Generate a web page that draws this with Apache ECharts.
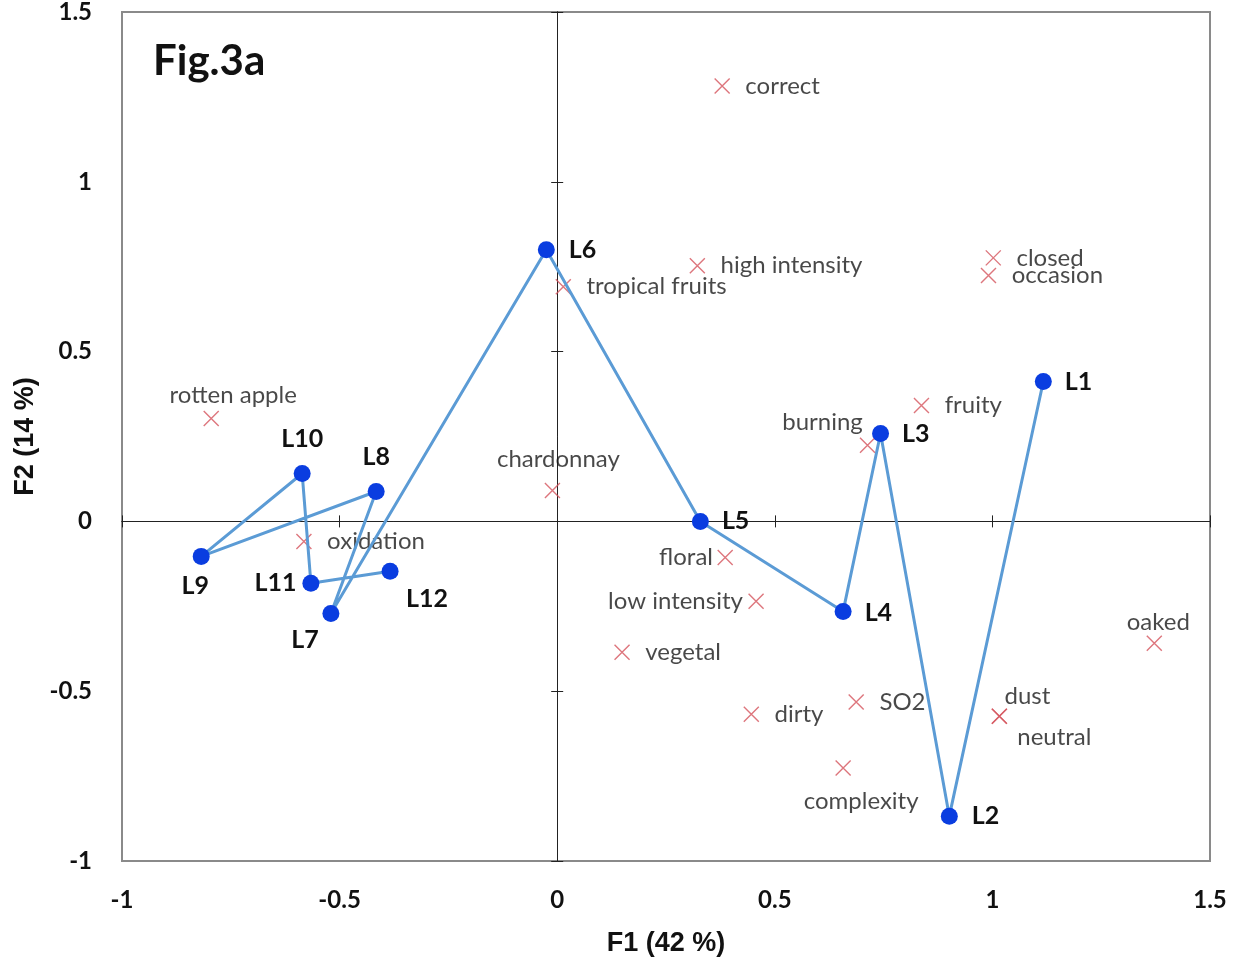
<!DOCTYPE html>
<html>
<head>
<meta charset="utf-8">
<script src="https://cdn.jsdelivr.net/npm/echarts@6/dist/echarts.min.js"></script>
<style>html,body{margin:0;padding:0;background:#fff}#chart{width:1242px;height:968px}</style>
</head>
<body>
<div id="chart"></div>
<script>
// ---- data ----
const sampleNames = ['L1','L2','L3','L4','L5','L6','L7','L8','L9','L10','L11','L12'];
const sampleF1 = [1.117, 0.901, 0.743, 0.657, 0.329, -0.025, -0.520, -0.416, -0.818, -0.586, -0.566, -0.384];
const sampleF2 = [0.412, -0.868, 0.259, -0.265, 0.0, 0.800, -0.271, 0.088, -0.103, 0.141, -0.182, -0.147];

const attrNames = ['correct','high intensity','tropical fruits','closed','occasion','rotten apple','fruity','burning','chardonnay','oxidation','floral','low intensity','vegetal','oaked','dirty','SO2','dust','neutral','complexity'];
const attrF1 = [0.379, 0.322, 0.014, 1.002, 0.991, -0.795, 0.837, 0.713, -0.011, -0.582, 0.386, 0.457, 0.149, 1.372, 0.446, 0.687, 1.016, 1.016, 0.657];
const attrF2 = [1.282, 0.753, 0.691, 0.776, 0.724, 0.303, 0.341, 0.224, 0.091, -0.059, -0.106, -0.235, -0.385, -0.359, -0.568, -0.532, -0.574, -0.574, -0.726];

const xTicks = {min: -1, max: 1.5, step: 0.5};
const yTicks = {min: -1, max: 1.5, step: 0.5};

const xName = 'F1 (42 %)';
const yName = 'F2 (14 %)';
const figTitle = 'Fig.3a';

// ---- label placement (style) ----
const sampleLabelStyle = {
  L1: {position: 'right', distance: 13},
  L2: {position: 'right', distance: 14},
  L3: {position: 'right', distance: 13},
  L4: {position: 'right', distance: 13, offset: [0, 2]},
  L5: {position: 'right', distance: 13},
  L6: {position: 'right', distance: 14},
  L7: {position: 'bottom', distance: 6, offset: [-26, 0]},
  L8: {position: 'top', distance: 14},
  L9: {position: 'bottom', distance: 9, offset: [-6, 0]},
  L10: {position: 'top', distance: 14},
  L11: {position: 'left', distance: 6},
  L12: {position: 'bottom', distance: 7, offset: [37, 0]}
};
const attrLabelStyle = {
  'rotten apple': {position: 'top', distance: 3, offset: [22, 0]},
  'burning': {position: 'top', distance: 3, offset: [-45, 0]},
  'chardonnay': {position: 'top', distance: 11, offset: [6, 0]},
  'floral': {position: 'left', distance: 4},
  'low intensity': {position: 'left', distance: 5},
  'oaked': {position: 'top', distance: 1, offset: [4, 0]},
  'dust': {position: 'top', distance: 0, offset: [28, 0]},
  'neutral': {position: 'bottom', distance: 1, offset: [55, 0]},
  'complexity': {position: 'bottom', distance: 13, offset: [18, 0]}
};

const LABEL_FONT = 'Lato, "Open Sans", sans-serif';
const NAME_FONT = '"Liberation Sans", Arial, sans-serif';

const sampleData = sampleNames.map((n, i) => {
  const s = sampleLabelStyle[n] || {position: 'right', distance: 13};
  return {value: [sampleF1[i], sampleF2[i]], name: n, label: Object.assign({show: true}, s)};
});
const attrData = attrNames.map((n, i) => {
  const s = attrLabelStyle[n] || {position: 'right', distance: 15};
  return {value: [attrF1[i], attrF2[i]], name: n, label: Object.assign({show: true}, s)};
});

function valAxis(t, extra) {
  return Object.assign({
    type: 'value', min: t.min, max: t.max, interval: t.step,
    splitLine: {show: false}
  }, extra);
}
const zeroLine = {color: '#222', width: 1};
const tickLabel = {fontFamily: LABEL_FONT, fontWeight: 'bold', fontSize: 24, color: '#111'};

const option = {
  animation: false,
  backgroundColor: '#fff',
  grid: {left: 122, top: 12, right: 32, bottom: 107, show: true, borderColor: '#8a8a8a', borderWidth: 2, backgroundColor: 'transparent'},
  graphic: [{type: 'text', left: 153, top: 40, style: {text: figTitle, font: 'bold 42px ' + LABEL_FONT, fill: '#111'}}],
  xAxis: [
    valAxis(xTicks, {position: 'bottom', axisLine: {show: false, onZero: false}, axisTick: {show: false},
      axisLabel: Object.assign({margin: 27}, tickLabel),
      name: xName, nameLocation: 'middle', nameGap: 69,
      nameTextStyle: {fontFamily: NAME_FONT, fontWeight: 'bold', fontSize: 27, color: '#111'}}),
    valAxis(xTicks, {position: 'bottom', axisLine: {show: true, onZero: true, lineStyle: zeroLine}, axisTick: {show: true, inside: false, length: 6, lineStyle: zeroLine}, axisLabel: {show: false}}),
    valAxis(xTicks, {position: 'bottom', axisLine: {show: true, onZero: true, lineStyle: zeroLine}, axisTick: {show: true, inside: true, length: 6, lineStyle: zeroLine}, axisLabel: {show: false}})
  ],
  yAxis: [
    valAxis(yTicks, {position: 'left', axisLine: {show: false, onZero: false}, axisTick: {show: false},
      axisLabel: Object.assign({margin: 30}, tickLabel),
      name: yName, nameLocation: 'middle', nameGap: 83, nameRotate: 90,
      nameTextStyle: {fontFamily: NAME_FONT, fontWeight: 'bold', fontSize: 27, color: '#111'}}),
    valAxis(yTicks, {position: 'left', axisLine: {show: true, onZero: true, lineStyle: zeroLine}, axisTick: {show: true, inside: false, length: 6, lineStyle: zeroLine}, axisLabel: {show: false}}),
    valAxis(yTicks, {position: 'left', axisLine: {show: true, onZero: true, lineStyle: zeroLine}, axisTick: {show: true, inside: true, length: 6, lineStyle: zeroLine}, axisLabel: {show: false}})
  ],
  series: [
    {
      type: 'scatter', xAxisIndex: 0, yAxisIndex: 0, name: 'attributes',
      symbol: 'path://M0,0L10,10M10,0L0,10', symbolSize: 15,
      itemStyle: {color: 'transparent', borderColor: '#d4545c', borderWidth: 1.4},
      label: {formatter: '{b}', fontFamily: LABEL_FONT, fontSize: 24, color: '#1a1a1a'},
      data: attrData, z: 3
    },
    {
      type: 'line', xAxisIndex: 0, yAxisIndex: 0, name: 'samples',
      symbol: 'circle', symbolSize: 17, showAllSymbol: true,
      lineStyle: {color: '#5b9bd5', width: 3},
      itemStyle: {color: '#0a3de0', borderWidth: 0},
      label: {formatter: '{b}', fontFamily: LABEL_FONT, fontWeight: 'bold', fontSize: 25, color: '#111'},
      data: sampleData, z: 4
    }
  ]
};
const chart = echarts.init(document.getElementById('chart'), null, {renderer: 'canvas'});
chart.setOption(option);
</script>
</body>
</html>
